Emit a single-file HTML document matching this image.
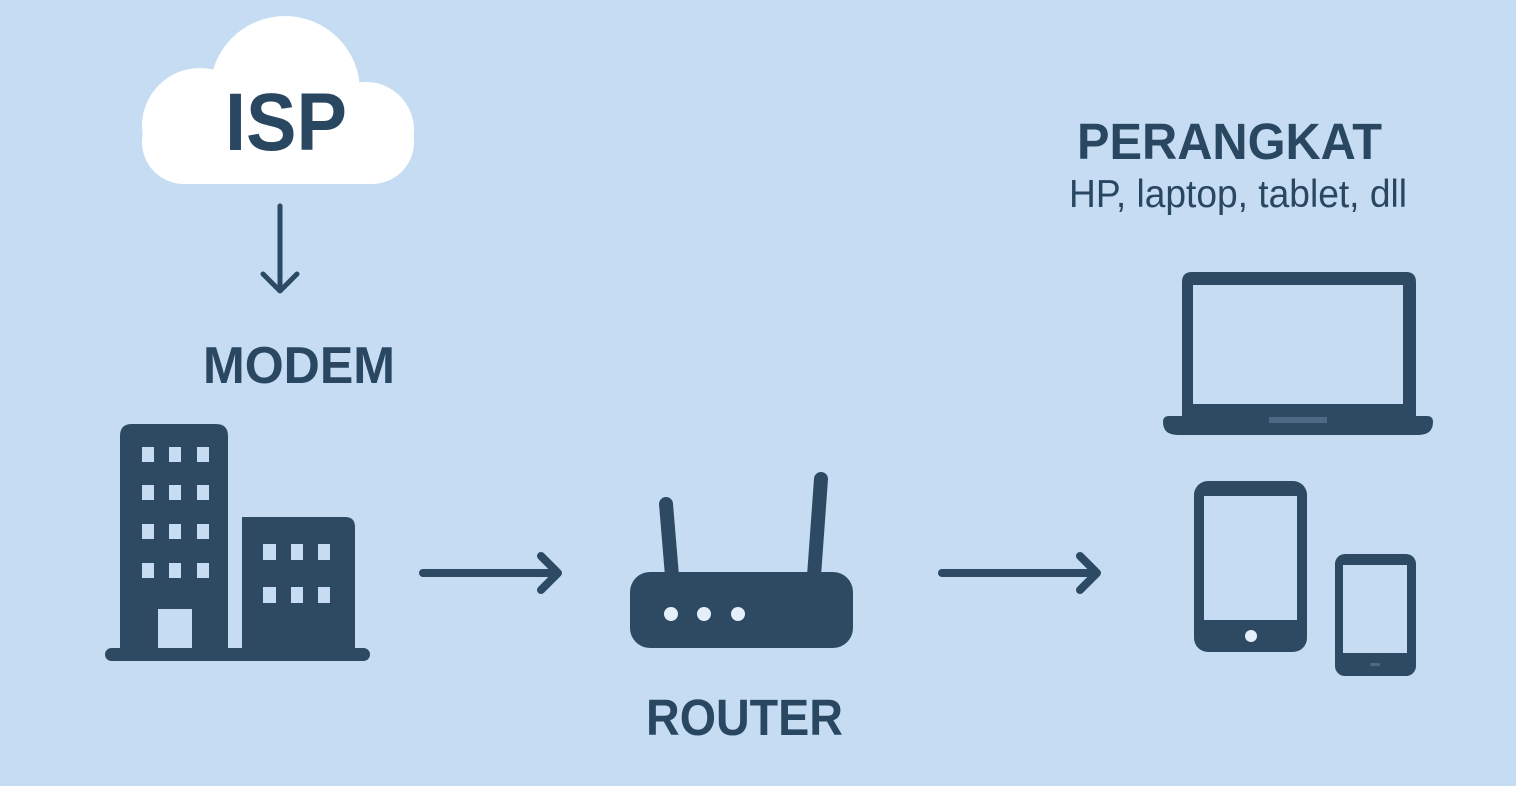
<!DOCTYPE html>
<html>
<head>
<meta charset="utf-8">
<style>
  html,body{margin:0;padding:0;background:#C5DCF2;}
  svg{display:block;}
  text{font-family:"Liberation Sans", sans-serif;fill:#2A4762;}
</style>
</head>
<body>
<svg width="1516" height="786" viewBox="0 0 1516 786" xmlns="http://www.w3.org/2000/svg">
  <rect width="1516" height="786" fill="#C5DCF2"/>

  <!-- Cloud -->
  <g fill="#FFFFFF">
    <circle cx="285" cy="91" r="75"/>
    <circle cx="200" cy="126" r="58"/>
    <circle cx="366" cy="130" r="48"/>
    <rect x="142" y="100" width="272" height="84" rx="42"/>
  </g>
  <text x="225" y="150" font-size="82" font-weight="bold" textLength="122" lengthAdjust="spacingAndGlyphs">ISP</text>

  <!-- Down arrow -->
  <g stroke="#2C4A64" stroke-width="5" stroke-linecap="round" stroke-linejoin="round" fill="none">
    <line x1="280" y1="206" x2="280" y2="290"/>
    <polyline points="263,274 280,291 297,274"/>
  </g>

  <text x="203" y="383" font-size="52" font-weight="bold" textLength="192" lengthAdjust="spacingAndGlyphs">MODEM</text>

  <!-- Buildings -->
  <g fill="#2E4A63">
    <path d="M120,648 L120,436 Q120,424 132,424 L216,424 Q228,424 228,436 L228,648 Z"/>
    <path d="M242,648 L242,517 L345,517 Q355,517 355,527 L355,648 Z"/>
    <rect x="105" y="648" width="265" height="13" rx="6.5"/>
  </g>
  <g fill="#C5DCF2">
    <rect x="142" y="447" width="12" height="15"/><rect x="169" y="447" width="12" height="15"/><rect x="197" y="447" width="12" height="15"/>
    <rect x="142" y="485" width="12" height="15"/><rect x="169" y="485" width="12" height="15"/><rect x="197" y="485" width="12" height="15"/>
    <rect x="142" y="524" width="12" height="15"/><rect x="169" y="524" width="12" height="15"/><rect x="197" y="524" width="12" height="15"/>
    <rect x="142" y="563" width="12" height="15"/><rect x="169" y="563" width="12" height="15"/><rect x="197" y="563" width="12" height="15"/>
    <rect x="158" y="609" width="34" height="39"/>
    <rect x="263" y="544" width="13" height="16"/><rect x="291" y="544" width="12" height="16"/><rect x="318" y="544" width="12" height="16"/>
    <rect x="263" y="587" width="13" height="16"/><rect x="291" y="587" width="12" height="16"/><rect x="318" y="587" width="12" height="16"/>
  </g>

  <!-- Right arrows -->
  <g stroke="#2C4A64" stroke-width="8" stroke-linecap="round" stroke-linejoin="round" fill="none">
    <line x1="423" y1="573" x2="556" y2="573"/>
    <polyline points="541,556 558,573 541,590"/>
    <line x1="942" y1="573" x2="1096" y2="573"/>
    <polyline points="1080,556 1097,573 1080,590"/>
  </g>

  <!-- Router -->
  <g fill="#2E4A63">
    <line x1="666" y1="504" x2="672" y2="576" stroke="#2E4A63" stroke-width="14" stroke-linecap="round"/>
    <line x1="821" y1="479" x2="814" y2="576" stroke="#2E4A63" stroke-width="14" stroke-linecap="round"/>
    <rect x="630" y="572" width="223" height="76" rx="20"/>
  </g>
  <g fill="#E4EFFA">
    <circle cx="671" cy="614" r="7"/>
    <circle cx="704" cy="614" r="7"/>
    <circle cx="738" cy="614" r="7"/>
  </g>

  <text x="646" y="735" font-size="51" font-weight="bold" textLength="197" lengthAdjust="spacingAndGlyphs">ROUTER</text>

  <text x="1077" y="159" font-size="51" font-weight="bold" textLength="305" lengthAdjust="spacingAndGlyphs">PERANGKAT</text>
  <text x="1069" y="207" font-size="39" textLength="338" lengthAdjust="spacingAndGlyphs">HP, laptop, tablet, dll</text>

  <!-- Laptop -->
  <g fill="#2E4A63">
    <path d="M1182,418 L1182,282 Q1182,272 1192,272 L1406,272 Q1416,272 1416,282 L1416,418 Z"/>
    <path d="M1169,416 L1427,416 Q1433,416 1433,422 Q1433,435 1418,435 L1178,435 Q1163,435 1163,422 Q1163,416 1169,416 Z"/>
  </g>
  <rect x="1193" y="285" width="210" height="119" fill="#C5DCF2"/>
  <rect x="1269" y="417" width="58" height="6" fill="#4E6983"/>

  <!-- Tablet -->
  <rect x="1194" y="481" width="113" height="171" rx="14" fill="#2E4A63"/>
  <rect x="1204" y="496" width="93" height="124" fill="#C5DCF2"/>
  <circle cx="1251" cy="636" r="6" fill="#E4EFFA"/>

  <!-- Phone -->
  <rect x="1335" y="554" width="81" height="122" rx="10" fill="#2E4A63"/>
  <rect x="1343" y="565" width="64" height="88" fill="#C5DCF2"/>
  <rect x="1370" y="663" width="10" height="3" rx="1.5" fill="#4E6983"/>
</svg>
</body>
</html>
